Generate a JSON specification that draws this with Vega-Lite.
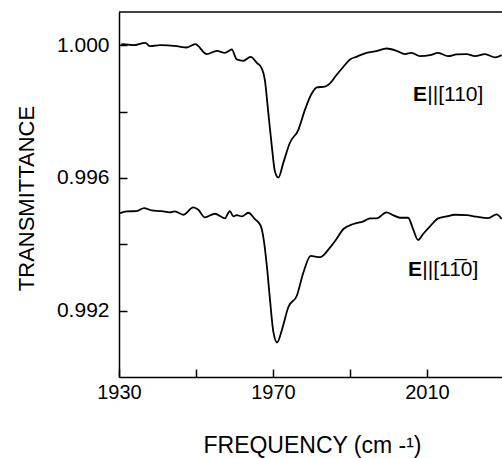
{
  "$schema": "https://vega.github.io/schema/vega-lite/v6.json",
  "width": 383,
  "height": 365,
  "autosize": "none",
  "padding": {"left": 119, "top": 12, "right": 0, "bottom": 81},
  "background": "white",
  "config": {
    "view": {"stroke": null},
    "font": "Liberation Sans",
    "axis": {
      "domainColor": "black",
      "domainWidth": 1.5,
      "tickColor": "black",
      "tickWidth": 1.5,
      "tickSize": -8,
      "labelColor": "black",
      "titleColor": "black",
      "titleFontWeight": "normal",
      "labelFlush": false,
      "labelOverlap": false,
      "labelBound": false,
      "grid": false
    }
  },
  "datasets": {
    "annotation": [{"note": "label"}],
    "spectra": [
      {"polarization": "E||[110]", "frequency": 1930.5, "transmittance": 1.00002},
      {"polarization": "E||[110]", "frequency": 1931.1, "transmittance": 1.00003},
      {"polarization": "E||[110]", "frequency": 1933.7, "transmittance": 1.00000},
      {"polarization": "E||[110]", "frequency": 1936.8, "transmittance": 1.00007},
      {"polarization": "E||[110]", "frequency": 1938.1, "transmittance": 0.99997},
      {"polarization": "E||[110]", "frequency": 1940.7, "transmittance": 1.00000},
      {"polarization": "E||[110]", "frequency": 1945.0, "transmittance": 0.99997},
      {"polarization": "E||[110]", "frequency": 1947.6, "transmittance": 0.99993},
      {"polarization": "E||[110]", "frequency": 1949.8, "transmittance": 1.00003},
      {"polarization": "E||[110]", "frequency": 1952.8, "transmittance": 0.99973},
      {"polarization": "E||[110]", "frequency": 1955.4, "transmittance": 0.99983},
      {"polarization": "E||[110]", "frequency": 1957.5, "transmittance": 0.99977},
      {"polarization": "E||[110]", "frequency": 1959.3, "transmittance": 0.99987},
      {"polarization": "E||[110]", "frequency": 1960.6, "transmittance": 0.99957},
      {"polarization": "E||[110]", "frequency": 1962.3, "transmittance": 0.99953},
      {"polarization": "E||[110]", "frequency": 1964.2, "transmittance": 0.99965},
      {"polarization": "E||[110]", "frequency": 1965.8, "transmittance": 0.99947},
      {"polarization": "E||[110]", "frequency": 1967.1, "transmittance": 0.99930},
      {"polarization": "E||[110]", "frequency": 1967.9, "transmittance": 0.99895},
      {"polarization": "E||[110]", "frequency": 1968.8, "transmittance": 0.99795},
      {"polarization": "E||[110]", "frequency": 1969.7, "transmittance": 0.99695},
      {"polarization": "E||[110]", "frequency": 1970.5, "transmittance": 0.99620},
      {"polarization": "E||[110]", "frequency": 1971.4, "transmittance": 0.99601},
      {"polarization": "E||[110]", "frequency": 1972.7, "transmittance": 0.99646},
      {"polarization": "E||[110]", "frequency": 1974.4, "transmittance": 0.99706},
      {"polarization": "E||[110]", "frequency": 1976.6, "transmittance": 0.99745},
      {"polarization": "E||[110]", "frequency": 1978.3, "transmittance": 0.99805},
      {"polarization": "E||[110]", "frequency": 1980.1, "transmittance": 0.99855},
      {"polarization": "E||[110]", "frequency": 1981.4, "transmittance": 0.99873},
      {"polarization": "E||[110]", "frequency": 1983.5, "transmittance": 0.99875},
      {"polarization": "E||[110]", "frequency": 1984.8, "transmittance": 0.99885},
      {"polarization": "E||[110]", "frequency": 1986.5, "transmittance": 0.99910},
      {"polarization": "E||[110]", "frequency": 1988.3, "transmittance": 0.99935},
      {"polarization": "E||[110]", "frequency": 1990.0, "transmittance": 0.99957},
      {"polarization": "E||[110]", "frequency": 1991.7, "transmittance": 0.99965},
      {"polarization": "E||[110]", "frequency": 1994.3, "transmittance": 0.99977},
      {"polarization": "E||[110]", "frequency": 1996.9, "transmittance": 0.99982},
      {"polarization": "E||[110]", "frequency": 1999.5, "transmittance": 0.99990},
      {"polarization": "E||[110]", "frequency": 2002.1, "transmittance": 0.99983},
      {"polarization": "E||[110]", "frequency": 2004.3, "transmittance": 0.99973},
      {"polarization": "E||[110]", "frequency": 2006.0, "transmittance": 0.99977},
      {"polarization": "E||[110]", "frequency": 2008.2, "transmittance": 0.99967},
      {"polarization": "E||[110]", "frequency": 2010.8, "transmittance": 0.99970},
      {"polarization": "E||[110]", "frequency": 2012.9, "transmittance": 0.99977},
      {"polarization": "E||[110]", "frequency": 2015.5, "transmittance": 0.99967},
      {"polarization": "E||[110]", "frequency": 2017.7, "transmittance": 0.99972},
      {"polarization": "E||[110]", "frequency": 2020.3, "transmittance": 0.99973},
      {"polarization": "E||[110]", "frequency": 2022.5, "transmittance": 0.99967},
      {"polarization": "E||[110]", "frequency": 2025.1, "transmittance": 0.99973},
      {"polarization": "E||[110]", "frequency": 2027.7, "transmittance": 0.99963},
      {"polarization": "E||[110]", "frequency": 2029.4, "transmittance": 0.99970},
      {"polarization": "E||[1-10]", "frequency": 1930.3, "transmittance": 0.99494},
      {"polarization": "E||[1-10]", "frequency": 1932.0, "transmittance": 0.99499},
      {"polarization": "E||[1-10]", "frequency": 1934.6, "transmittance": 0.99500},
      {"polarization": "E||[1-10]", "frequency": 1936.5, "transmittance": 0.99509},
      {"polarization": "E||[1-10]", "frequency": 1938.5, "transmittance": 0.99502},
      {"polarization": "E||[1-10]", "frequency": 1941.1, "transmittance": 0.99500},
      {"polarization": "E||[1-10]", "frequency": 1943.2, "transmittance": 0.99496},
      {"polarization": "E||[1-10]", "frequency": 1944.5, "transmittance": 0.99499},
      {"polarization": "E||[1-10]", "frequency": 1946.7, "transmittance": 0.99489},
      {"polarization": "E||[1-10]", "frequency": 1949.3, "transmittance": 0.99511},
      {"polarization": "E||[1-10]", "frequency": 1950.6, "transmittance": 0.99504},
      {"polarization": "E||[1-10]", "frequency": 1952.3, "transmittance": 0.99481},
      {"polarization": "E||[1-10]", "frequency": 1954.9, "transmittance": 0.99492},
      {"polarization": "E||[1-10]", "frequency": 1957.5, "transmittance": 0.99478},
      {"polarization": "E||[1-10]", "frequency": 1958.8, "transmittance": 0.99500},
      {"polarization": "E||[1-10]", "frequency": 1959.7, "transmittance": 0.99484},
      {"polarization": "E||[1-10]", "frequency": 1960.6, "transmittance": 0.99488},
      {"polarization": "E||[1-10]", "frequency": 1961.9, "transmittance": 0.99484},
      {"polarization": "E||[1-10]", "frequency": 1963.6, "transmittance": 0.99495},
      {"polarization": "E||[1-10]", "frequency": 1965.3, "transmittance": 0.99476},
      {"polarization": "E||[1-10]", "frequency": 1966.8, "transmittance": 0.99456},
      {"polarization": "E||[1-10]", "frequency": 1967.7, "transmittance": 0.99406},
      {"polarization": "E||[1-10]", "frequency": 1968.4, "transmittance": 0.99336},
      {"polarization": "E||[1-10]", "frequency": 1969.2, "transmittance": 0.99236},
      {"polarization": "E||[1-10]", "frequency": 1970.1, "transmittance": 0.99136},
      {"polarization": "E||[1-10]", "frequency": 1971.1, "transmittance": 0.99104},
      {"polarization": "E||[1-10]", "frequency": 1972.3, "transmittance": 0.99141},
      {"polarization": "E||[1-10]", "frequency": 1974.0, "transmittance": 0.99211},
      {"polarization": "E||[1-10]", "frequency": 1976.2, "transmittance": 0.99245},
      {"polarization": "E||[1-10]", "frequency": 1977.9, "transmittance": 0.99315},
      {"polarization": "E||[1-10]", "frequency": 1979.8, "transmittance": 0.99365},
      {"polarization": "E||[1-10]", "frequency": 1982.2, "transmittance": 0.99361},
      {"polarization": "E||[1-10]", "frequency": 1984.8, "transmittance": 0.99390},
      {"polarization": "E||[1-10]", "frequency": 1986.5, "transmittance": 0.99416},
      {"polarization": "E||[1-10]", "frequency": 1988.3, "transmittance": 0.99446},
      {"polarization": "E||[1-10]", "frequency": 1990.9, "transmittance": 0.99461},
      {"polarization": "E||[1-10]", "frequency": 1993.5, "transmittance": 0.99469},
      {"polarization": "E||[1-10]", "frequency": 1995.2, "transmittance": 0.99478},
      {"polarization": "E||[1-10]", "frequency": 1996.9, "transmittance": 0.99478},
      {"polarization": "E||[1-10]", "frequency": 1999.5, "transmittance": 0.99496},
      {"polarization": "E||[1-10]", "frequency": 2001.2, "transmittance": 0.99488},
      {"polarization": "E||[1-10]", "frequency": 2003.0, "transmittance": 0.99480},
      {"polarization": "E||[1-10]", "frequency": 2005.1, "transmittance": 0.99480},
      {"polarization": "E||[1-10]", "frequency": 2006.4, "transmittance": 0.99446},
      {"polarization": "E||[1-10]", "frequency": 2007.7, "transmittance": 0.99413},
      {"polarization": "E||[1-10]", "frequency": 2009.0, "transmittance": 0.99431},
      {"polarization": "E||[1-10]", "frequency": 2010.8, "transmittance": 0.99454},
      {"polarization": "E||[1-10]", "frequency": 2012.9, "transmittance": 0.99478},
      {"polarization": "E||[1-10]", "frequency": 2015.1, "transmittance": 0.99484},
      {"polarization": "E||[1-10]", "frequency": 2017.3, "transmittance": 0.99489},
      {"polarization": "E||[1-10]", "frequency": 2020.3, "transmittance": 0.99488},
      {"polarization": "E||[1-10]", "frequency": 2022.9, "transmittance": 0.99483},
      {"polarization": "E||[1-10]", "frequency": 2025.9, "transmittance": 0.99479},
      {"polarization": "E||[1-10]", "frequency": 2028.1, "transmittance": 0.99490},
      {"polarization": "E||[1-10]", "frequency": 2029.4, "transmittance": 0.99476}
    ]
  },
  "layer": [
    {
      "data": {"name": "spectra"},
      "mark": {"type": "line", "color": "black", "strokeWidth": 1.8, "clip": true, "interpolate": "monotone"},
      "encoding": {
        "x": {
          "field": "frequency",
          "type": "quantitative",
          "scale": {"domain": [1930, 2029.5], "nice": false, "zero": false},
          "axis": {
            "values": [1930, 1950, 1970, 1990, 2010],
            "format": "d",
            "labelExpr": "(datum.value - 1930) % 40 == 0 ? datum.label : ''",
            "labelFontSize": 20,
            "labelPadding": 13,
            "title": "FREQUENCY (cm -¹)",
            "titleFontSize": 23,
            "titleX": 193,
            "titleY": 75,
            "titleAlign": "center",
            "titleBaseline": "alphabetic"
          }
        },
        "y": {
          "field": "transmittance",
          "type": "quantitative",
          "scale": {"domain": [0.99, 1.001], "nice": false, "zero": false},
          "axis": {
            "values": [0.992, 0.994, 0.996, 0.998, 1.0],
            "format": ".3f",
            "labelExpr": "round(datum.value * 1000) % 4 == 0 ? datum.label : ''",
            "labelFontSize": 21,
            "labelPadding": 18,
            "title": "TRANSMITTANCE",
            "titleFontSize": 22,
            "titleAngle": 270,
            "titleX": -86,
            "titleY": 186,
            "titleAlign": "center",
            "titleBaseline": "alphabetic"
          }
        },
        "detail": {"field": "polarization", "type": "nominal"}
      }
    },
    {
      "data": {"name": "annotation"},
      "mark": {"type": "rule", "color": "black", "strokeWidth": 1.5},
      "encoding": {"y": {"datum": 1.001}}
    },
    {
      "data": {"name": "annotation"},
      "mark": {"type": "text", "text": "E", "fontWeight": "bold", "fontSize": 21, "align": "left", "baseline": "middle", "color": "black"},
      "encoding": {"x": {"datum": 2006.4}, "y": {"datum": 0.9985}}
    },
    {
      "data": {"name": "annotation"},
      "mark": {"type": "text", "text": "||[110]", "fontSize": 21, "align": "left", "baseline": "middle", "color": "black"},
      "encoding": {"x": {"datum": 2010.1}, "y": {"datum": 0.9985}}
    },
    {
      "data": {"name": "annotation"},
      "mark": {"type": "text", "text": "E", "fontWeight": "bold", "fontSize": 21, "align": "left", "baseline": "middle", "color": "black"},
      "encoding": {"x": {"datum": 2005.1}, "y": {"datum": 0.99322}}
    },
    {
      "data": {"name": "annotation"},
      "mark": {"type": "text", "text": "||[11̅0]", "fontSize": 21, "align": "left", "baseline": "middle", "color": "black"},
      "encoding": {"x": {"datum": 2008.8}, "y": {"datum": 0.99322}}
    }
  ]
}
